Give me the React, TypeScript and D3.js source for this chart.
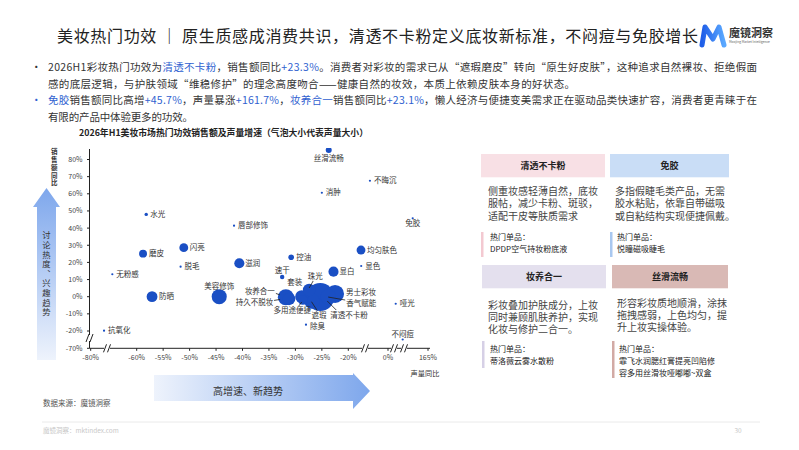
import React from 'react';
import * as d3 from 'd3';

const FONT = '"Noto Sans CJK SC", "Noto Sans", sans-serif';

// ---------------- data ----------------
const names = ['丝滑流畅', '不晦沉', '消肿', '唇部修饰', '免胶', '水光', '闪亮', '磨皮', '脱毛', '无粉感', '滋润', '防晒', '美容修饰', '抗氧化', '控油', '均匀肤色', '显色', '显白', '速干', '珠光', '套装', '妆养合一', '持久不脱妆', '多用途便捷', '清透不卡粉', '遮瑕', '男士彩妆', '香气赋能', '除臭', '哑光', '不闷痘'];
const soundYoY = [-23.7, -9.1, -25.0, -41.6, 101.9, -58.2, -51.1, -58.8, -51.7, -70.6, -40.6, -57.1, -44.4, -74.2, -30.8, -13.6, -13.5, -22.8, -32.5, -27.4, -28.8, -31.8, -31.2, -28.6, -25.3, -26.9, -22.5, -23.8, -28.0, 31.8, 60.6];
const salesYoY = [85.5, 67.6, 60.6, 41.4, 45.7, 48.0, 28.6, 25.1, 17.5, 13.1, 19.5, 0, 0, -19.8, 23.0, 27.2, 17.9, 14.6, 11.5, 3.9, 0, -0.3, -1.3, -1.9, -0.2, -2.5, 1.6, -0.2, -16.3, -4.1, -44.6];
const volume = [4.6, 0.5, 0.5, 0.5, 0.6, 1.5, 10, 8, 0.5, 0.4, 13, 15, 29, 0.4, 4, 10, 0.4, 13, 2.5, 20, 22, 33, 20, 12, 100, 30, 41, 30, 0.5, 0.6, 0.4];

const xTicks = [-80, -60, -55, -50, -45, -40, -35, -30, -25, -20, 0, 165];
const yTicks = [80, 70, 60, 50, 40, 30, 20, 10, 0, -10, -20, -70];

const titleText = '美妆热门功效 ｜ 原生质感成消费共识，清透不卡粉定义底妆新标准，不闷痘与免胶增长';
const chartTitle = '2026年H1美妆市场热门功效销售额及声量增速（气泡大小代表声量大小）';

type Seg = { t: string; hl?: boolean };
const bulletLines: Seg[][] = [
  [{ t: '2026H1彩妆热门功效为' }, { t: '清透不卡粉', hl: true }, { t: '，销售额同比' }, { t: '+23.3%', hl: true }, { t: '。消费者对彩妆的需求已从“遮瑕磨皮”转向“原生好皮肤”，这种追求自然裸妆、拒绝假面' }],
  [{ t: '感的底层逻辑，与护肤领域“维稳修护”的理念高度吻合——健康自然的妆效，本质上依赖皮肤本身的好状态。' }],
  [{ t: '免胶', hl: true }, { t: '销售额同比高增' }, { t: '+45.7%', hl: true }, { t: '，声量暴涨' }, { t: '+161.7%', hl: true }, { t: '，' }, { t: '妆养合一', hl: true }, { t: '销售额同比' }, { t: '+23.1%', hl: true }, { t: '，懒人经济与便捷变美需求正在驱动品类快速扩容，消费者更青睐于在' }],
  [{ t: '有限的产品中体验更多的功效。' }],
];

const cardTitles = ['清透不卡粉', '免胶', '妆养合一', '丝滑流畅'];
const cardBodies = [
  ['侧重妆感轻薄自然，底妆', '服帖，减少卡粉、斑驳，', '适配干皮等肤质需求'],
  ['多指假睫毛类产品，无需', '胶水粘贴，依靠自带磁吸', '或自粘结构实现便捷佩戴。'],
  ['彩妆叠加护肤成分，上妆', '同时兼顾肌肤养护，实现', '化妆与修护二合一。'],
  ['形容彩妆质地顺滑，涂抹', '拖拽感弱，上色均匀，提', '升上妆实操体验。'],
];
const cardProducts = [
  ['DPDP空气持妆粉底液'],
  ['悦瞳磁吸睫毛'],
  ['蒂洛薇云雾水散粉'],
  ['霏飞水润腮红膏提亮凹陷修', '容多用丝滑妆哑嘟嘟~双盒'],
];

// ---------------- layout / style ----------------
type LP = { dx: number; dy: number; a?: 'start' | 'middle' | 'end'; l?: [number, number, number, number] };
const labelPlace: Record<string, LP> = {
  '丝滑流畅': { dx: 0, dy: 8, a: 'middle' },
  '免胶': { dx: 0, dy: 5.5, a: 'middle' },
  '闪亮': { dx: 6, dy: 0 },
  '磨皮': { dx: 6, dy: 0 },
  '滋润': { dx: 6, dy: 0 },
  '防晒': { dx: 7, dy: 0 },
  '美容修饰': { dx: 0, dy: -10.5, a: 'middle' },
  '控油': { dx: 5, dy: 0 },
  '均匀肤色': { dx: 6, dy: 0 },
  '显白': { dx: 6, dy: 0 },
  '速干': { dx: 0, dy: -7, a: 'middle' },
  '珠光': { dx: 6, dy: -13.3, a: 'middle', l: [4, -9, 0, -2] },
  '套装': { dx: -7, dy: -14, a: 'middle' },
  '妆养合一': { dx: -11, dy: -5.6, a: 'end', l: [-10, -3.8, -6, -2.3] },
  '持久不脱妆': { dx: -15.7, dy: 3.7, a: 'end', l: [-15, 1.5, -9, 0.5] },
  '多用途便捷': { dx: -10.5, dy: 10, a: 'middle', l: [-4, 6, -1, 2] },
  '遮瑕': { dx: 7.3, dy: 14, a: 'middle', l: [5.5, 9.7, -0.3, 0.7] },
  '清透不卡粉': { dx: 10, dy: 18, a: 'start', l: [16, 13, 7, 4] },
  '男士彩妆': { dx: 11, dy: -1.7, a: 'start' },
  '香气赋能': { dx: 18, dy: 6.3, a: 'start', l: [0, 0, 17, 3] },
  '除臭': { dx: 4, dy: 1.5 },
  '不闷痘': { dx: 0, dy: -5.5, a: 'middle' },
};

const BLUE = '#1a4fc4';
const HL = '#2f5fd0';

export default function App() {
  const x = d3.scaleLinear().domain([-80, -60, -20, 0, 165]).range([90.7, 136.7, 348.3, 388, 428]);
  const y = d3.scaleLinear().domain([-70, -20, 80]).range([348.3, 331, 159.5]);
  const r = d3.scaleSqrt().domain([0, 100]).range([0, 14]);

  const pts = names.map((n, i) => ({ n, cx: x(soundYoY[i]), cy: y(salesYoY[i]), rr: Math.max(1.1, r(volume[i])) }));
  const sorted = [...pts].sort((a, b) => b.rr - a.rr);

  const axisX0 = 89.5;
  const axisY0 = 348.3;

  const slash = (cx: number, cy: number, k: string) => (
    <g key={k}>
      <rect x={cx - 3} y={cy - 3} width={6} height={6} fill="#fff" />
      <line x1={cx - 3.5} y1={cy + 4} x2={cx - 0.5} y2={cy - 4} stroke="#222" strokeWidth={1} />
      <line x1={cx + 0.5} y1={cy + 4} x2={cx + 3.5} y2={cy - 4} stroke="#222" strokeWidth={1} />
    </g>
  );

  const cards = [
    { x: 481, y: 154, w: 124, fill: '#f8e0e5', bar: '#f3c9d1', tx: 488, bodyY: 195, prodY: 239.5, barH: [232, 257] },
    { x: 610, y: 154, w: 119, fill: '#c9ddf6', bar: '#a9c8f0', tx: 615, bodyY: 195, prodY: 239.5, barH: [232, 257] },
    { x: 482, y: 265, w: 124, fill: '#e4e0ee', bar: '#d6d0e6', tx: 488, bodyY: 308.5, prodY: 352, barH: [341, 368] },
    { x: 612, y: 265, w: 116, fill: '#d9b9b5', bar: '#d2aaa5', tx: 617, bodyY: 306.5, prodY: 352, barH: [341, 378] },
  ];

  return (
    <div style={{ position: 'fixed', left: 0, top: 0, width: 799, height: 450, background: '#fff' }}>
      <svg width={799} height={450} style={{ display: 'block', fontFamily: FONT }}>
        <defs>
          <linearGradient id="vArrow" x1="0" y1="0" x2="0" y2="1">
            <stop offset="0" stopColor="#7ea7ec" />
            <stop offset="1" stopColor="#eef3fc" />
          </linearGradient>
          <linearGradient id="hArrow" x1="0" y1="0" x2="1" y2="0">
            <stop offset="0" stopColor="#eef3fc" />
            <stop offset="1" stopColor="#7ea7ec" />
          </linearGradient>
          <linearGradient id="logoG" x1="0" y1="0" x2="1" y2="0">
            <stop offset="0" stopColor="#1f5ee8" />
            <stop offset="1" stopColor="#5aa8ff" />
          </linearGradient>
          <clipPath id="plotClip">
            <rect x={axisX0} y={148} width={345} height={205} />
          </clipPath>
        </defs>

        {/* Title */}
        <text x={57} y={41.5} fontSize={16} fill="#222" textLength={641} lengthAdjust="spacing">{titleText}</text>
        {/* Logo */}
        <path d="M702,45 L705,27 L713,39 L719,27 L724,45" fill="none" stroke="url(#logoG)" strokeWidth={5} strokeLinejoin="round" strokeLinecap="round" />
        <text x={729} y={37} fontSize={11} fontWeight={700} fill="#333">魔镜洞察</text>
        <text x={729} y={42.5} fontSize={3.2} fill="#666">Moojing Market Intelligence</text>

        {/* Bullets */}
        {bulletLines.map((line, i) => {
          const yy = 71 + i * 16.7;
          const len = [709, 527, 709, 145][i];
          return (
            <g key={i}>
              {(i === 0 || i === 2) && <text x={31} y={yy} fontSize={10.5} fill={i === 2 ? HL : '#333'}>•</text>}
              <text x={48} y={yy} fontSize={10.5} fill="#333" textLength={len} lengthAdjust="spacing">
                {line.map((s, j) => (
                  <tspan key={j} fill={s.hl ? HL : '#333'}>{s.t}</tspan>
                ))}
              </text>
            </g>
          );
        })}

        {/* Chart title */}
        <text x={79} y={136} fontSize={9} fontWeight={700} fill="#222" textLength={289} lengthAdjust="spacingAndGlyphs">{chartTitle}</text>

        {/* vertical arrow */}
        <polygon points="46.5,188 60,207 56,207 56,360 37,360 37,207 33,207" fill="url(#vArrow)" />
        <text x={46.5} y={231} fontSize={8.3} fill="#333" letterSpacing={1.3} style={{ writingMode: 'vertical-rl' }}>讨论热度、兴趣趋势</text>

        {/* y axis label */}
        <text x={54.3} y={148.5} fontSize={6.5} fontWeight={700} fill="#333" letterSpacing={1.3} style={{ writingMode: 'vertical-rl' }}>销售额同比</text>

        {/* axes */}
        <line x1={axisX0} y1={149} x2={axisX0} y2={axisY0} stroke="#222" strokeWidth={1} />
        <line x1={axisX0} y1={axisY0} x2={430} y2={axisY0} stroke="#222" strokeWidth={1} />
        {yTicks.map((t) => (
          <g key={t}>
            <line x1={axisX0 - 2.5} x2={axisX0} y1={y(t)} y2={y(t)} stroke="#222" />
            <text x={82.5} y={y(t) + 2.4} fontSize={7} fill="#444" textAnchor="end">{t}%</text>
          </g>
        ))}
        {xTicks.map((t) => (
          <g key={t}>
            <line x1={x(t)} x2={x(t)} y1={axisY0} y2={axisY0 + 2.5} stroke="#222" />
            <text x={x(t)} y={360} fontSize={7} fill="#444" textAnchor="middle">{t}%</text>
          </g>
        ))}
        {slash(axisX0, 338, 'yb')}
        {slash(107, axisY0, 'xb1')}
        {slash(365, axisY0, 'xb2')}
        {slash(394, axisY0, 'xb3')}
        {slash(404, axisY0, 'xb4')}
        <text x={425} y={375.5} fontSize={7.2} fill="#333" textAnchor="middle">声量同比</text>

        {/* bubbles */}
        <g clipPath="url(#plotClip)">
          {sorted.map((p) => (
            <circle key={p.n} cx={p.cx} cy={p.cy} r={p.rr} fill={BLUE} />
          ))}
        </g>
        {pts.map((p) => {
          const lp = labelPlace[p.n] || { dx: 4, dy: 0, a: 'start' as const };
          return (
            <g key={p.n}>
              {lp.l && (
                <line x1={p.cx + lp.l[0]} y1={p.cy + lp.l[1]} x2={p.cx + lp.l[2]} y2={p.cy + lp.l[3]} stroke="#222" strokeWidth={0.8} />
              )}
              <text x={p.cx + lp.dx} y={p.cy + lp.dy + 2.6} fontSize={7.5} fill="#333" textAnchor={lp.a || 'start'}>{p.n}</text>
            </g>
          );
        })}

        {/* horizontal arrow */}
        <polygon points="154,375 353,375 353,373 370,391 353,409 353,401 154,401" fill="url(#hArrow)" />
        <text x={248} y={394.5} fontSize={10} fill="#333" textAnchor="middle">高增速、新趋势</text>

        <text x={43} y={405.5} fontSize={7.5} fill="#555">数据来源：魔镜洞察</text>

        {/* cards */}
        {cards.map((c, i) => (
          <g key={i}>
            <rect x={c.x} y={c.y} width={c.w} height={23.3} fill={c.fill} />
            <text x={c.x + c.w / 2} y={c.y + 15} fontSize={9} fontWeight={700} fill="#222" textAnchor="middle">{cardTitles[i]}</text>
            <text fontSize={10} fill="#444">
              {cardBodies[i].map((t, j) => (
                <tspan key={j} x={c.tx} y={c.bodyY + j * 12.4}>{t}</tspan>
              ))}
            </text>
            <rect x={c.x} y={c.barH[0]} width={2.5} height={c.barH[1] - c.barH[0]} fill={c.bar} />
            <text fontSize={8} fill="#222">
              <tspan x={c.tx + 2} y={c.prodY}>热门单品：</tspan>
              {cardProducts[i].map((t, j) => (
                <tspan key={j} x={c.tx + 2} y={c.prodY + 12.2 * (j + 1)}>{t}</tspan>
              ))}
            </text>
          </g>
        ))}

        {/* footer */}
        <line x1={42} x2={760} y1={422} y2={422} stroke="#eaeaea" strokeWidth={1} />
        <text x={43} y={433} fontSize={6.5} fill="#c8c8c8">魔镜洞察：mktindex.com</text>
        <text x={738} y={433} fontSize={6.5} fill="#c8c8c8" textAnchor="middle">30</text>
      </svg>
    </div>
  );
}
